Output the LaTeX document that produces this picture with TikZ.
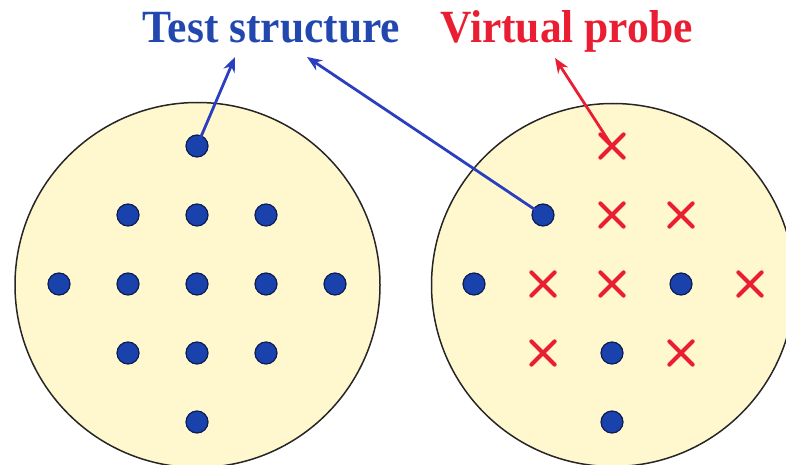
\documentclass[tikz,border=0pt]{standalone}
\usepackage{fontspec}
\setmainfont{Liberation Serif}
\usetikzlibrary{arrows.meta,shapes.misc}

\definecolor{fond}{RGB}{255,248,206}
\definecolor{bleupt}{RGB}{26,66,172}
\definecolor{bleutx}{RGB}{34,72,176}
\definecolor{bleunuit}{RGB}{12,28,84}
\definecolor{bleufl}{RGB}{42,62,192}
\definecolor{rouge}{RGB}{234,30,50}

\tikzset{
  plaque/.style={draw=black!85,line width=1.5pt,fill=fond},
  pt/.style={circle,draw=bleunuit,line width=1.2pt,fill=bleupt,inner sep=0pt,minimum size=22pt},
  sonde/.style={cross out,draw=rouge,line width=4.2pt,inner sep=0pt,minimum size=19pt},
  titre/.style={font=\fontsize{43.5}{48}\selectfont\bfseries,anchor=base,inner sep=0pt},
  fleche/.style={->,line width=2.8pt,shorten <=-2pt}
}

\begin{document}
\begin{tikzpicture}[line cap=round,line join=round,>={Stealth[length=15pt,width=12pt]},x=1pt,y=-1pt]
		% Cadre
		\useasboundingbox (0,0) rectangle (786,465);
		\clip (0,0) rectangle (786,465);
		
		% Plaquettes
		\draw[plaque] (197.5,285) circle (182.5pt);
		\draw[plaque] (613,285) circle (181.5pt);
		
		% Structures de test (plaquette de gauche)
		\foreach \c/\r in {3/1,2/2,3/2,4/2,1/3,2/3,3/3,4/3,5/3,2/4,3/4,4/4,3/5}
			\node[pt] (g\c\r) at ({59+69*(\c-1)},{146+69*(\r-1)}) {};
		
		% Structures de test (plaquette de droite)
		\foreach \c/\r in {2/2,1/3,4/3,3/4,3/5}
			\node[pt] (d\c\r) at ({474+69*(\c-1)},{146+69*(\r-1)}) {};
		
		% Sondes virtuelles
		\foreach \c/\r in {3/1,3/2,4/2,2/3,3/3,5/3,2/4,4/4}
			\node[sonde] (x\c\r) at ({474+69*(\c-1)},{146+69*(\r-1)}) {};
		
		% Titres
		\node[titre,text=bleutx] (ts) at (271.5,43) {\scalebox{1}[1.06]{Test structure}};
		\node[titre,text=rouge] (vp) at (566.5,43) {\scalebox{1}[1.06]{Virtual probe}};
		
		% Pointes des fleches
		\coordinate (ts1) at (235,57);
		\coordinate (ts2) at (307,57);
		\coordinate (vp1) at (555,58);
		
		% Fleches
		\draw[fleche,bleufl] (g31) -- (ts1);
		\draw[fleche,bleufl] (d22) -- (ts2);
		\draw[fleche,rouge] (x31.center) -- (vp1);
	\end{tikzpicture}
\end{document}
